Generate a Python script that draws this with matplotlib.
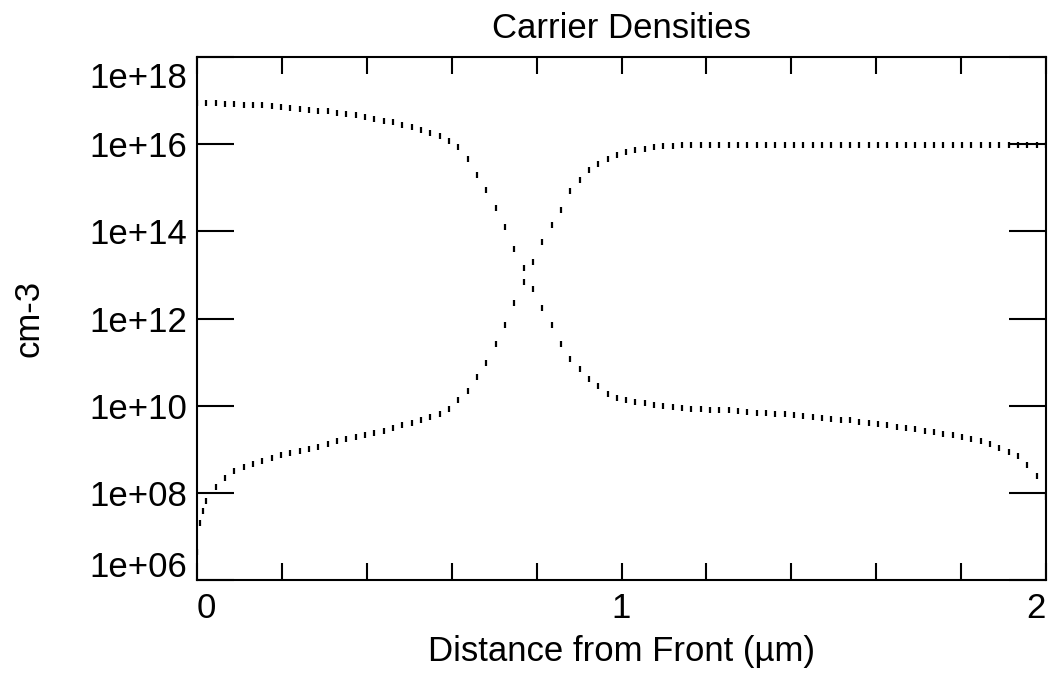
import numpy as np
import matplotlib
matplotlib.use("Agg")
import matplotlib.pyplot as plt
from matplotlib.ticker import MultipleLocator, FixedLocator
from matplotlib.transforms import ScaledTranslation

plt.rcParams['font.family'] = ['Liberation Sans', 'DejaVu Sans']

# Sample positions along the device (µm)
x = np.linspace(0, 2, 92)

# log10 of carrier density, curve starting high at the front
log_a = [16.95, 16.95, 16.94, 16.93, 16.92, 16.91, 16.90, 16.89, 16.87, 16.85,
         16.83, 16.81, 16.79, 16.77, 16.75, 16.72, 16.69, 16.66, 16.62, 16.58,
         16.54, 16.50, 16.45, 16.39, 16.33, 16.26, 16.18, 16.07, 15.93, 15.65,
         15.30, 14.95, 14.53, 14.10, 13.60, 13.15, 12.67, 12.25, 11.85, 11.42,
         11.08, 10.83, 10.62, 10.46, 10.27, 10.17, 10.12, 10.08, 10.05, 10.02,
         9.99, 9.97, 9.94, 9.93, 9.92, 9.91, 9.90, 9.89, 9.87, 9.86,
         9.84, 9.83, 9.81, 9.80, 9.78, 9.76, 9.74, 9.72, 9.70, 9.68,
         9.66, 9.63, 9.61, 9.58, 9.56, 9.52, 9.49, 9.46, 9.43, 9.39,
         9.36, 9.32, 9.28, 9.24, 9.18, 9.12, 9.03, 8.93, 8.84, 8.65,
         8.38, 7.90]

# log10 of the other carrier, starting low at the front
log_b = [6.65, 7.82, 8.14, 8.35, 8.49, 8.59, 8.67, 8.74, 8.80, 8.86,
         8.91, 8.96, 9.01, 9.06, 9.12, 9.18, 9.23, 9.28, 9.33, 9.38,
         9.43, 9.49, 9.55, 9.61, 9.67, 9.74, 9.82, 9.93, 10.13, 10.33,
         10.65, 10.98, 11.42, 11.85, 12.35, 12.83, 13.30, 13.75, 14.15, 14.50,
         14.93, 15.18, 15.40, 15.55, 15.67, 15.76, 15.82, 15.87, 15.90, 15.93,
         15.95, 15.96, 15.97, 15.97, 15.97, 15.97, 15.97, 15.98, 15.98, 15.98,
         15.98, 15.98, 15.98, 15.98, 15.98, 15.98, 15.98, 15.98, 15.98, 15.98,
         15.98, 15.98, 15.98, 15.98, 15.98, 15.98, 15.98, 15.98, 15.98, 15.98,
         15.98, 15.98, 15.98, 15.98, 15.98, 15.98, 15.98, 15.98, 15.98, 15.98,
         15.98, 15.98]

# extra points near the front contact for the low curve
x_b_front = [0.007, 0.014]
log_b_front = [7.30, 7.58]

y_ticks = [1e6, 1e8, 1e10, 1e12, 1e14, 1e16, 1e18]
y_labels = ['1e+06', '1e+08', '1e+10', '1e+12', '1e+14', '1e+16', '1e+18']

xb = np.concatenate([x[:1], x_b_front, x[1:]])
yb = np.concatenate([log_b[:1], log_b_front, log_b[1:]])

fig = plt.figure(figsize=(10.51, 6.73), dpi=100)
ax = fig.add_axes([197 / 1051, 1 - 580 / 673, 849 / 1051, 523 / 673])

mk = dict(marker='|', linestyle='none', color='black', markersize=4.5, markeredgewidth=1.6)
ax.plot(x, 10 ** np.array(log_a), **mk)
ax.plot(xb, 10 ** yb, **mk)

ax.set_yscale('log')
ax.set_xlim(0, 2)
ax.set_ylim(1e6, 1e18)

for s in ax.spines.values():
    s.set_linewidth(1.5)

ax.xaxis.set_major_locator(FixedLocator([0, 1, 2]))
ax.xaxis.set_minor_locator(MultipleLocator(0.2))
ax.set_xticks([0, 1, 2], ['0', '1', '2'])
ax.set_yticks(y_ticks, y_labels)
ax.yaxis.set_minor_locator(FixedLocator([]))

ax.tick_params(axis='x', which='both', direction='in', top=True, length=12, width=1.5,
               labelsize=25, pad=9)
ax.tick_params(axis='y', which='both', direction='in', right=True, length=26.5, width=1.5,
               labelsize=25, pad=7)

xl = ax.get_xticklabels()
xl[0].set_ha('left')
xl[-1].set_ha('right')
yl = ax.get_yticklabels()
yl[0].set_va('bottom')
yl[0].set_transform(yl[0].get_transform() + ScaledTranslation(0, -4 / 100, fig.dpi_scale_trans))
yl[-1].set_va('top')
yl[-1].set_transform(yl[-1].get_transform() + ScaledTranslation(0, -5 / 100, fig.dpi_scale_trans))

fig.text(621 / 1051, 1 - 28 / 673, 'Carrier Densities', ha='center', va='center', fontsize=25)
fig.text(621 / 1051, 1 - 651 / 673, 'Distance from Front (µm)', ha='center', va='center', fontsize=25)
fig.text(29 / 1051, 1 - 318 / 673, 'cm-3', ha='center', va='center', rotation=90, fontsize=25)

fig.savefig('out.png', dpi=100)
